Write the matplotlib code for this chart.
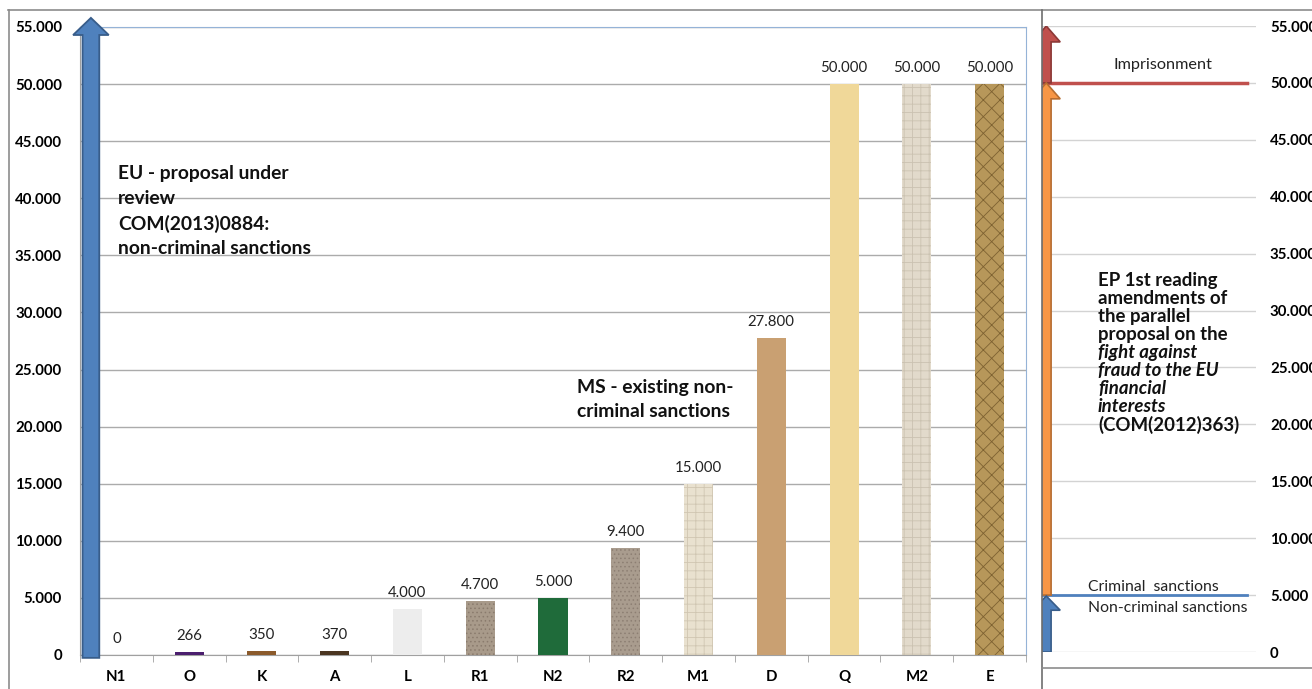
import matplotlib
matplotlib.use('Agg')
import matplotlib.pyplot as plt
from matplotlib.patches import FancyArrow
from matplotlib.lines import Line2D

plt.rcParams['font.family'] = ['Lato', 'DejaVu Sans']
plt.rcParams['hatch.linewidth'] = 0.6

# data
categories = ['N1', 'O', 'K', 'A', 'L', 'R1', 'N2', 'R2', 'M1', 'D', 'Q', 'M2', 'E']
values = [0, 266, 350, 370, 4000, 4700, 5000, 9400, 15000, 27800, 50000, 50000, 50000]
bar_colors = ['#FFFFFF', '#4B1E6E', '#8B5A2B', '#4A3520', '#EDEDED', '#A89A8A',
              '#1F6B3A', '#A99C8E', '#E9E1CF', '#C9A072', '#F0D899', '#E2DACB', '#B7975A']
hatches = [None, None, None, None, None, '....', None, '....', '++', None, None, '++', 'xx']
hatch_colors = [None, None, None, None, None, '#8A7B6D', None, '#8D7F73', '#D0C6B2', None,
                None, '#CBC2B1', '#7E6232']

y_ticks = list(range(0, 55001, 5000))
imprisonment_level = 50000
criminal_level = 5000
top_level = 55000


def fmt(v):
    return f"{v:,.0f}".replace(',', '.')


W, H = 1312, 689
fig = plt.figure(figsize=(W / 100, H / 100), dpi=100)


def fx(px):
    return px / W


def fy(py):
    return 1 - py / H


# ---- left panel ----
ax = fig.add_axes([fx(80), fy(655), fx(1026) - fx(80), fy(27) - fy(655)])
x = list(range(len(categories)))
ax.bar(x, values, width=0.4, color=bar_colors, linewidth=0, zorder=3)
for xi, v, h, hc in zip(x, values, hatches, hatch_colors):
    if h:
        ax.bar(xi, v, width=0.4, fill=False, hatch=h, edgecolor=hc, linewidth=0, zorder=3.1)
for xi, v in zip(x, values):
    ax.annotate(fmt(v), (xi, v), xytext=(0, 11.5), textcoords='offset points',
                ha='center', va='center', fontsize=10.8, color='#222222')

ax.set_xlim(-0.5, len(categories) - 0.5)
ax.set_ylim(0, top_level)
ax.set_yticks(y_ticks)
ax.set_yticklabels([fmt(v) for v in y_ticks], fontweight='bold', fontsize=10.8)
ax.set_xticks(x)
ax.set_xticklabels(categories, fontweight='bold', fontsize=10.8)
ax.set_xticks([i + 0.5 for i in range(-1, len(categories))], minor=True)
ax.tick_params(axis='x', which='major', length=0, pad=11)
ax.tick_params(axis='x', which='minor', length=5, color='#A0A0A0', direction='out')
ax.tick_params(axis='y', length=0, pad=13)
ax.grid(axis='y', color='#ABABAB', linewidth=1, zorder=0)
ax.set_axisbelow(True)
for s in ['left', 'bottom']:
    ax.spines[s].set_color('#A0A0A0')
for s in ['top', 'right']:
    ax.spines[s].set_color('#95B3D7')

ax.add_patch(FancyArrow(-0.35, -250, 0, top_level + 1050, width=0.23, head_width=0.49,
                        head_length=1500, length_includes_head=True, fc='#4F81BD',
                        ec='#385D8A', lw=1.3, clip_on=False, zorder=5))

eu_lines = ['EU - proposal under', 'review', 'COM(2013)0884:', 'non-criminal sanctions']
for i, t in enumerate(eu_lines):
    ax.text((118 - 80) / 946, (655 - 174 - 25 * i) / 628, t, transform=ax.transAxes,
            fontsize=13.9, fontweight='bold', va='center', ha='left', color='#111111')
ms_lines = ['MS - existing non-', 'criminal sanctions']
for i, t in enumerate(ms_lines):
    ax.text((577 - 80) / 946, (655 - 388 - 23.5 * i) / 628, t, transform=ax.transAxes,
            fontsize=13.9, fontweight='bold', va='center', ha='left', color='#111111')

# ---- right panel ----
rax = fig.add_axes([fx(1042), fy(652), fx(1256) - fx(1042), fy(26) - fy(652)])
rax.set_xlim(0, 1)
rax.set_ylim(0, top_level)
rax.set_xticks([])
rax.set_yticks(y_ticks)
rax.set_yticklabels([fmt(v) for v in y_ticks], fontweight='bold', fontsize=10.8)
rax.yaxis.tick_right()
rax.tick_params(axis='y', length=0, pad=10)
rax.grid(axis='y', color='#D3D3D3', linewidth=1, zorder=0)
rax.set_axisbelow(True)
for s in rax.spines.values():
    s.set_visible(False)

rax.plot([0, 0.958], [imprisonment_level] * 2, color='#C0504D', lw=2.5, zorder=4)
rax.plot([0, 0.958], [criminal_level] * 2, color='#4F81BD', lw=2, zorder=4)

arrows = [
    (imprisonment_level, top_level, '#C0504D', '#8C3836', 1400),
    (criminal_level, imprisonment_level, '#F79646', '#B66D31', 1400),
    (0, criminal_level - 80, '#4F81BD', '#385D8A', 1250),
]
for y0, y1, fc, ec, hl in arrows:
    rax.add_patch(FancyArrow(0.02, y0, 0, y1 - y0, width=0.045, head_width=0.13,
                             head_length=hl, length_includes_head=True, fc=fc, ec=ec,
                             lw=1.2, zorder=5))

rax.text(0.565, (652 - 65) / 626, 'Imprisonment', transform=rax.transAxes,
         ha='center', va='center', fontsize=11.7, color='#222222')
rax.text(0.215, (652 - 587) / 626, 'Criminal  sanctions', transform=rax.transAxes,
         ha='left', va='center', fontsize=11.3, color='#222222')
rax.text(0.215, (652 - 608) / 626, 'Non-criminal sanctions', transform=rax.transAxes,
         ha='left', va='center', fontsize=11.3, color='#222222')

ep_lines = [('EP 1st reading', 'normal'), ('amendments of', 'normal'),
            ('the parallel', 'normal'), ('proposal on the', 'normal'),
            ('fight against', 'italic'), ('fraud to the EU', 'italic'),
            ('financial', 'italic'), ('interests', 'italic'),
            ('(COM(2012)363)', 'normal')]
for i, (t, st) in enumerate(ep_lines):
    rax.text((1098 - 1042) / 214, (652 - 280 - 18.1 * i) / 626, t, transform=rax.transAxes,
             ha='left', va='center', fontsize=13.4, fontweight='bold', style=st,
             color='#111111')

# ---- frame lines ----
frame = '#8C8C8C'
fig.add_artist(Line2D([fx(8), 1], [fy(10), fy(10)], color=frame, lw=1.2))
fig.add_artist(Line2D([fx(9), fx(9)], [fy(10), 0], color=frame, lw=1.2))
fig.add_artist(Line2D([fx(1042), fx(1042)], [fy(10), 0], color='#6E6E6E', lw=1.2))
fig.add_artist(Line2D([fx(1042), 1], [fy(668), fy(668)], color=frame, lw=1.2))

fig.savefig('out.png', dpi=100)
